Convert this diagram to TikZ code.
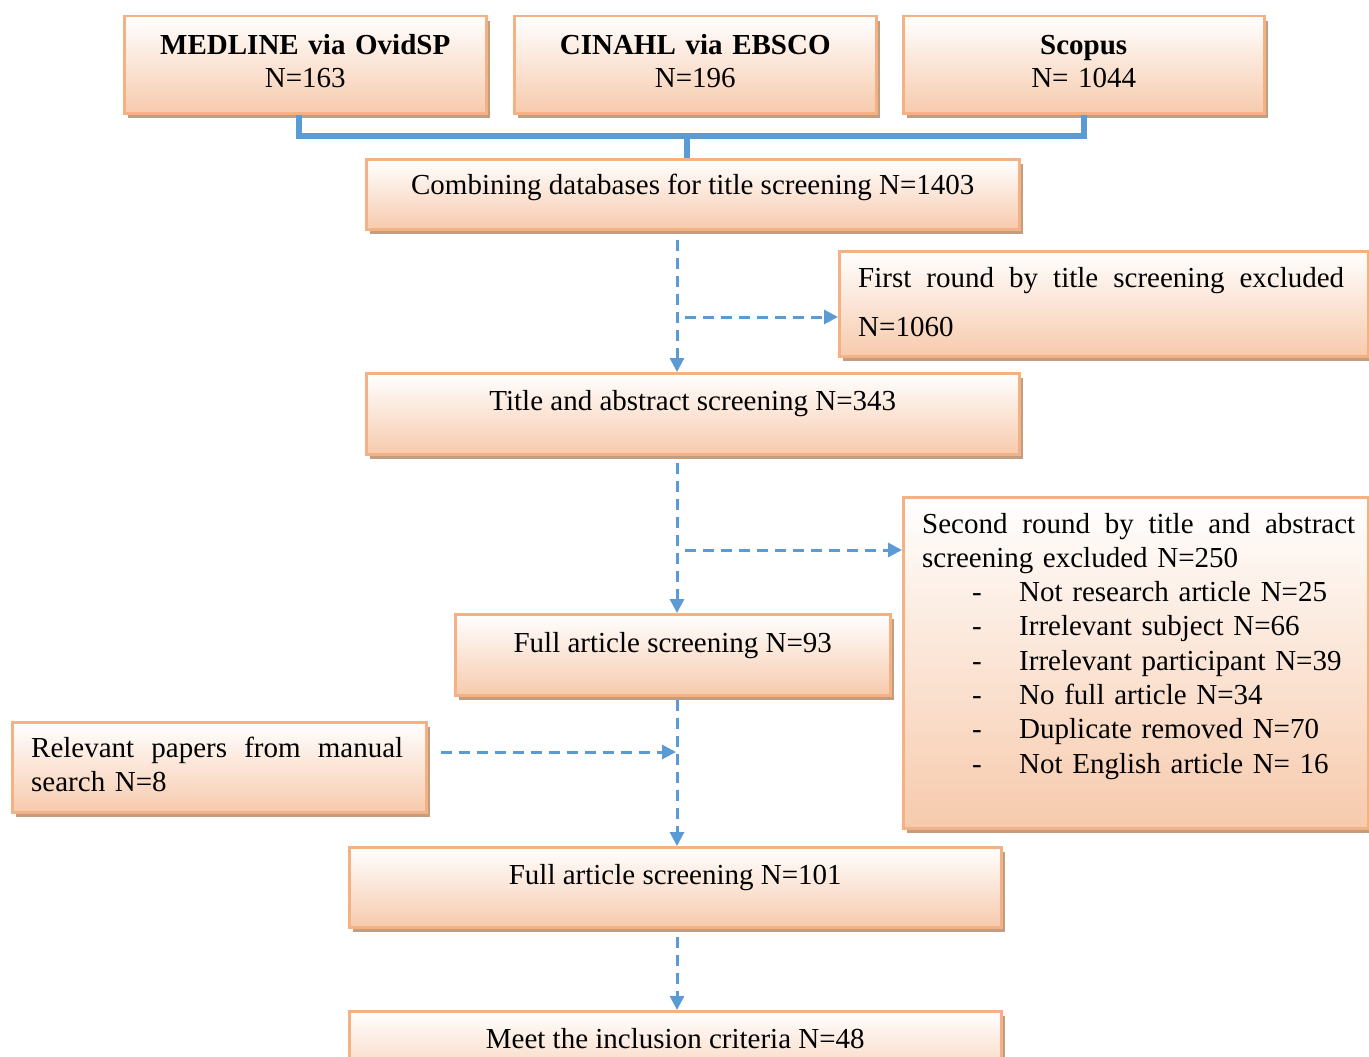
\documentclass[tikz,border=0pt]{standalone}
\usepackage{fontspec}
\setmainfont{Liberation Serif}
\usetikzlibrary{arrows.meta,shadows}
\definecolor{bord}{RGB}{244,177,131}
\definecolor{peach}{RGB}{247,202,172}
\definecolor{shad}{RGB}{193,157,130}
\definecolor{lblue}{RGB}{91,155,213}
\tikzset{
  box/.style={draw=bord, line width=2.5pt, top color=white, bottom color=peach,
    inner sep=0pt, anchor=north west,
    drop shadow={shadow xshift=4pt, shadow yshift=-5pt, fill=shad, opacity=1},
    font=\fontsize{29}{33}\selectfont},
  txt/.style={inner sep=0pt, anchor=base west, align=left},
  bracket/.style={draw=lblue, line width=6pt, line join=miter},
  flow/.style={draw=lblue, line width=3pt, dash pattern=on 11pt off 7pt,
    -{Triangle[length=14pt,width=14pt]}}
}
\begin{document}
\begin{tikzpicture}[x=1pt,y=-1pt]
\fill[white] (0,0) rectangle (1369,1057);
\useasboundingbox (0,0) rectangle (1369,1057);

% top database boxes
\node[box, text width=362pt, align=center, text height=38pt, text depth=59pt] (med) at (123,15)
  {\textbf{MEDLINE via OvidSP}\\N=163};
\node[box, text width=362pt, align=center, text height=38pt, text depth=59pt] (cin) at (513,15)
  {\textbf{CINAHL via EBSCO}\\N=196};
\node[box, text width=361pt, align=center, text height=38pt, text depth=59pt] (sco) at (902,15)
  {\textbf{Scopus}\\N= 1044};

\node[box, minimum width=653pt, text height=35pt, text depth=35pt] (comb) at (365,158)
  {Combining databases for title screening N=1403};

\node[box, minimum width=529pt, minimum height=105pt] (first) at (838,250) {};
\node[txt, text width=500pt, font=\fontsize{29}{49}\selectfont] (firstt) at (858,287)
  {\hbox to 486pt{First\hfill round\hfill by\hfill title\hfill screening\hfill excluded}\\N=1060};

\node[box, minimum width=653pt, text height=37pt, text depth=44pt] (title) at (365,372)
  {Title and abstract screening N=343};

\node[box, minimum width=465pt, minimum height=331pt] (second) at (902,496) {};
\node[txt, text width=445pt, font=\fontsize{29}{34.3}\selectfont] (secondt) at (922,533)
  {\hbox to 433pt{Second\hfill round\hfill by\hfill title\hfill and\hfill abstract}\\
   screening excluded N=250\\
   \hspace*{50pt}\makebox[47pt][l]{-}Not research article N=25\\
   \hspace*{50pt}\makebox[47pt][l]{-}Irrelevant subject N=66\\
   \hspace*{50pt}\makebox[47pt][l]{-}Irrelevant participant N=39\\
   \hspace*{50pt}\makebox[47pt][l]{-}No full article N=34\\
   \hspace*{50pt}\makebox[47pt][l]{-}Duplicate removed N=70\\
   \hspace*{50pt}\makebox[47pt][l]{-}Not English article N= 16};

\node[box, minimum width=435pt, text height=38pt, text depth=43pt] (full93) at (454,613)
  {Full article screening N=93};

\node[box, minimum width=414pt, minimum height=90pt] (rel) at (11,721) {};
\node[txt, text width=380pt, font=\fontsize{29}{34}\selectfont] (relt) at (31,757)
  {\hbox to 372pt{Relevant\hfill papers\hfill from\hfill manual}\\search N=8};

\node[box, minimum width=652pt, text height=37pt, text depth=43pt] (full101) at (348,846)
  {Full article screening N=101};

\node[box, minimum width=652pt, text height=37pt, text depth=44pt] (meet) at (348,1010)
  {Meet the inclusion criteria N=48};

% bracket
\coordinate (jn) at (687,136);
\draw[bracket] ([xshift=-6pt]med.south) |- (jn) -| (sco.south);
\draw[bracket] (jn) -- (jn |- comb.north);

% flow arrows
\coordinate (vx) at (677,0);
\coordinate (b1) at (685,317);
\coordinate (b2) at (685,550);
\coordinate (b3) at (676,752);
\draw[flow] ([yshift=-9pt]comb.south -| vx) -- (title.north -| vx);
\draw[flow] (b1) -- (b1 -| first.west);
\draw[flow] ([yshift=-7pt]title.south -| vx) -- (full93.north -| vx);
\draw[flow] (b2) -- (b2 -| second.west);
\draw[flow] ([yshift=-3pt]full93.south -| vx) -- (full101.north -| vx);
\draw[flow] ([xshift=13pt]rel.east |- b3) -- (b3);
\draw[flow] ([yshift=-8pt]full101.south -| vx) -- (meet.north -| vx);
\end{tikzpicture}
\end{document}
